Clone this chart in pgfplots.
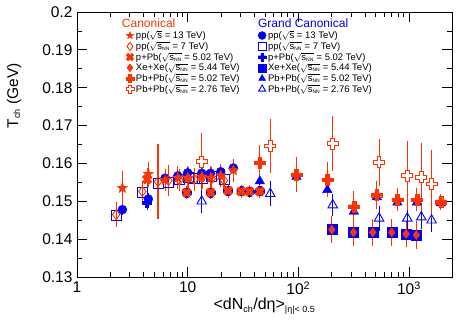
\documentclass[border=0pt]{standalone}
\usepackage{fontspec}
\setmainfont{Liberation Sans}
\usepackage{pgfplots}
\pgfplotsset{compat=1.18}
\definecolor{cRed}{HTML}{FF3300}
\definecolor{cBlue}{HTML}{0000FF}

% filled five-point star
\pgfdeclareplotmark{fstar}{%
  \pgfpathmoveto{\pgfpointpolar{90}{\pgfplotmarksize}}%
  \pgfpathlineto{\pgfpointpolar{126}{0.42\pgfplotmarksize}}%
  \pgfpathlineto{\pgfpointpolar{162}{\pgfplotmarksize}}%
  \pgfpathlineto{\pgfpointpolar{198}{0.42\pgfplotmarksize}}%
  \pgfpathlineto{\pgfpointpolar{234}{\pgfplotmarksize}}%
  \pgfpathlineto{\pgfpointpolar{270}{0.42\pgfplotmarksize}}%
  \pgfpathlineto{\pgfpointpolar{306}{\pgfplotmarksize}}%
  \pgfpathlineto{\pgfpointpolar{342}{0.42\pgfplotmarksize}}%
  \pgfpathlineto{\pgfpointpolar{18}{\pgfplotmarksize}}%
  \pgfpathlineto{\pgfpointpolar{54}{0.42\pgfplotmarksize}}%
  \pgfpathclose
  \pgfusepathqfillstroke}
% thick plus
\pgfdeclareplotmark{fcross}{%
  \pgfpathmoveto{\pgfpoint{-0.34\pgfplotmarksize}{\pgfplotmarksize}}%
  \pgfpathlineto{\pgfpoint{0.34\pgfplotmarksize}{\pgfplotmarksize}}%
  \pgfpathlineto{\pgfpoint{0.34\pgfplotmarksize}{0.34\pgfplotmarksize}}%
  \pgfpathlineto{\pgfpoint{\pgfplotmarksize}{0.34\pgfplotmarksize}}%
  \pgfpathlineto{\pgfpoint{\pgfplotmarksize}{-0.34\pgfplotmarksize}}%
  \pgfpathlineto{\pgfpoint{0.34\pgfplotmarksize}{-0.34\pgfplotmarksize}}%
  \pgfpathlineto{\pgfpoint{0.34\pgfplotmarksize}{-\pgfplotmarksize}}%
  \pgfpathlineto{\pgfpoint{-0.34\pgfplotmarksize}{-\pgfplotmarksize}}%
  \pgfpathlineto{\pgfpoint{-0.34\pgfplotmarksize}{-0.34\pgfplotmarksize}}%
  \pgfpathlineto{\pgfpoint{-\pgfplotmarksize}{-0.34\pgfplotmarksize}}%
  \pgfpathlineto{\pgfpoint{-\pgfplotmarksize}{0.34\pgfplotmarksize}}%
  \pgfpathlineto{\pgfpoint{-0.34\pgfplotmarksize}{0.34\pgfplotmarksize}}%
  \pgfpathclose
  \pgfusepathqfillstroke}

\newcommand{\snn}{$\sqrt{\mbox{s}_{\mbox{\tiny NN}}}$}

\pgfplotsset{
  eb/.style={only marks, error bars/.cd, y dir=both, y explicit, error mark=none,
    error bar style={line width=1.1pt}},
  pp13C/.style={color=cRed, mark=fstar, mark size=5.5pt},
  pp7C/.style={color=cRed, mark=diamond, mark size=5pt, mark options={fill=white, line width=0.9pt}},
  pPbC/.style={color=cRed, mark=fcross, mark size=5pt, mark options={rotate=45}},
  XeC/.style={color=cRed, mark=diamond*, mark size=4.5pt},
  Pb5C/.style={color=cRed, mark=fcross, mark size=5.5pt},
  Pb2C/.style={color=cRed, mark=fcross, mark size=5.5pt, mark options={fill=white, line width=0.9pt}},
  pp13G/.style={color=cBlue, mark=*, mark size=4.5pt},
  pp7G/.style={color=cBlue, mark=square, mark size=5pt, mark options={fill=white, line width=0.9pt}},
  pPbG/.style={color=cBlue, mark=fcross, mark size=4.5pt},
  XeG/.style={color=cBlue, mark=square*, mark size=5pt},
  Pb5G/.style={color=cBlue, mark=triangle*, mark size=5.5pt},
  Pb2G/.style={color=cBlue, mark=triangle, mark size=5.5pt, mark options={fill=white, line width=0.9pt}},
}

\begin{document}
\begin{tikzpicture}
\begin{axis}[
    scale only axis,
    width=375pt, height=265pt,
    xmode=log, xmin=1, xmax=2450,
    ymin=0.13, ymax=0.2,
    xtick={1,10,100,1000},
    xticklabels={1,10,10\textsuperscript{2},10\textsuperscript{3}},
    ytick={0.13,0.14,0.15,0.16,0.17,0.18,0.19,0.2},
    minor y tick num=1,
    tick align=inside,
    major tick length=10pt, minor tick length=5pt,
    axis line style={line width=0.8pt},
    every tick/.style={black, line width=0.8pt},
    tick label style={font=\fontsize{15.5}{17}\selectfont},
    yticklabel style={/pgf/number format/fixed, /pgf/number format/precision=2,
      /pgf/number format/assume math mode=true, xshift=-1pt},
    xticklabel style={yshift=-1pt},
    xlabel={<dN$_{\mbox{\fontsize{9}{9}\selectfont ch}}$/dη>$_{\mbox{\fontsize{9}{9}\selectfont |η|< 0.5}}$},
    xlabel style={font=\fontsize{16}{18}\selectfont, yshift=3pt},
    ylabel={T$_{\mbox{\fontsize{9}{9}\selectfont ch}}$ (GeV)},
    ylabel style={font=\fontsize{15.5}{17}\selectfont, at={(axis description cs:-0.168,0.82)}, anchor=east},
    legend columns=2,
    legend cell align=left,
    legend style={draw=none, fill=none, at={(0.11,0.99)}, anchor=north west,
      font=\fontsize{9.5}{10}\selectfont, row sep=-2.2pt,
      /tikz/every odd column/.append style={column sep=0pt},
      /tikz/every even column/.append style={column sep=12pt}},
]
% legend: Canonical column (left) and Grand Canonical column (right)
\addlegendimage{empty legend}
\addlegendentry{\hspace{-14pt}\textcolor{cRed}{\fontsize{12}{13}\selectfont Canonical}}
\addlegendimage{empty legend}
\addlegendentry{\hspace{-10pt}\textcolor{cBlue}{\fontsize{12}{13}\selectfont Grand Canonical}}
\addlegendimage{only marks, pp13C, mark size=4pt}
\addlegendentry{pp($\sqrt{\mbox{s}}$ = 13 TeV)}
\addlegendimage{only marks, pp13G, mark size=4pt}
\addlegendentry{pp($\sqrt{\mbox{s}}$ = 13 TeV)}
\addlegendimage{only marks, pp7C, mark size=4pt}
\addlegendentry{pp(\snn{} = 7 TeV)}
\addlegendimage{only marks, pp7G, mark size=4pt}
\addlegendentry{pp(\snn{} = 7 TeV)}
\addlegendimage{only marks, pPbC, mark size=4pt}
\addlegendentry{p+Pb(\snn{} = 5.02 TeV)}
\addlegendimage{only marks, pPbG, mark size=4pt}
\addlegendentry{p+Pb(\snn{} = 5.02 TeV)}
\addlegendimage{only marks, XeC, mark size=4pt}
\addlegendentry{Xe+Xe(\snn{} = 5.44 TeV)}
\addlegendimage{only marks, XeG, mark size=4pt}
\addlegendentry{Xe+Xe(\snn{} = 5.44 TeV)}
\addlegendimage{only marks, Pb5C, mark size=4pt}
\addlegendentry{Pb+Pb(\snn{} = 5.02 TeV)}
\addlegendimage{only marks, Pb5G, mark size=4pt}
\addlegendentry{Pb+Pb(\snn{} = 5.02 TeV)}
\addlegendimage{only marks, Pb2C, mark size=4pt}
\addlegendentry{Pb+Pb(\snn{} = 2.76 TeV)}
\addlegendimage{only marks, Pb2G, mark size=4pt}
\addlegendentry{Pb+Pb(\snn{} = 2.76 TeV)}

% ---- Grand canonical (blue) ----
\addplot[forget plot, pp7G, eb] coordinates {
 (2.26,0.1463) +- (0,0.0012) (3.90,0.1523) +- (0,0.0012) (5.40,0.1548) +- (0,0.0012)
 (6.72,0.1550) +- (0,0.0012) (8.45,0.1558) +- (0,0.0012) (10.1,0.1562) +- (0,0.0012)
 (11.5,0.1560) +- (0,0.0012) (13.5,0.1560) +- (0,0.0012) (16.5,0.1565) +- (0,0.0012)
 (21.3,0.1557) +- (0,0.0012)};
\addplot[forget plot, pp13G, eb] coordinates {
 (2.57,0.1478) +- (0,0.0015) (4.41,0.1506) +- (0,0.0015) (6.25,0.1561) +- (0,0.0012)
 (8.14,0.1567) +- (0,0.0012) (10.0,0.1575) +- (0,0.0012) (13.4,0.1574) +- (0,0.0012)
 (16.1,0.1574) +- (0,0.0012) (19.9,0.1578) +- (0,0.0012) (25.9,0.1588) +- (0,0.0012)};
\addplot[forget plot, pPbG, eb] coordinates {
 (4.3,0.1496) +- (0,0.0018) (9.8,0.1523) +- (0,0.0015) (16.1,0.1523) +- (0,0.0015)
 (23.2,0.1528) +- (0,0.0015) (30.5,0.1527) +- (0,0.0015) (36.2,0.1526) +- (0,0.0015)
 (45.0,0.1527) +- (0,0.0015)};
\addplot[forget plot, XeG, eb] coordinates {
 (201,0.1425) +- (0,0.001) (315,0.1418) +- (0,0.001) (471,0.1418) +- (0,0.001)
 (700,0.1418) +- (0,0.001) (944,0.1414) +- (0,0.001) (1167,0.1411) +- (0,0.001)};
\addplot[forget plot, Pb5G, eb] coordinates {
 (44.9,0.1553) +- (0,0.001) (96.3,0.1565) +- (0,0.001) (183,0.1530) +- (0,0.001)
 (318,0.1473) +- (0,0.001) (512,0.1511) +- (0,0.001) (786,0.1497) +- (0,0.001)
 (1180,0.1497) +- (0,0.001) (1943,0.1495) +- (0,0.001)};
\addplot[forget plot, Pb2G, eb] coordinates {
 (13.4,0.1500) +- (0,0.0030) (55.8,0.1520) +- (0,0.0033) (205,0.1490) +- (0,0.0030)
 (537,0.1455) +- (0,0.0033) (966,0.1455) +- (0,0.0033) (1294,0.1458) +- (0,0.0030)
 (1601,0.1450) +- (0,0.0030)};

% ---- Canonical (red) ----
\addplot[forget plot, pp7C, eb] coordinates {
 (2.26,0.1465) +- (0,0.0033) (3.90,0.1526) +- (0,0.0027) (5.40,0.1552) +- (0,0.0100)
 (6.72,0.1555) +- (0,0.0040) (8.45,0.1556) +- (0,0.0030) (10.1,0.1560) +- (0,0.0030)
 (11.5,0.1558) +- (0,0.0030) (13.5,0.1562) +- (0,0.0030) (16.5,0.1560) +- (0,0.0030)
 (21.3,0.1555) +- (0,0.0030)};
\addplot[forget plot, pp13C, eb] coordinates {
 (2.57,0.1535) +- (0,0.0044) (4.41,0.1572) +- (0,0.0033) (6.25,0.1556) +- (0,0.0030)
 (8.14,0.1562) +- (0,0.0030) (10.0,0.1562) +- (0,0.0030) (13.4,0.1565) +- (0,0.0030)
 (16.1,0.1562) +- (0,0.0030) (19.9,0.1568) +- (0,0.0030) (25.9,0.1582) +- (0,0.0030)};
\addplot[forget plot, pPbC, eb] coordinates {
 (4.3,0.1558) +- (0,0.0030) (9.8,0.1523) +- (0,0.0018) (16.1,0.1523) +- (0,0.0018)
 (23.2,0.1528) +- (0,0.0018) (30.5,0.1526) +- (0,0.0018) (36.2,0.1526) +- (0,0.0018)
 (45.0,0.1526) +- (0,0.0018)};
\addplot[forget plot, XeC, eb] coordinates {
 (201,0.1425) +- (0,0.0036) (315,0.1418) +- (0,0.0036) (471,0.1418) +- (0,0.0036)
 (700,0.1418) +- (0,0.0035) (944,0.1414) +- (0,0.0035) (1167,0.1411) +- (0,0.0037)};
\addplot[forget plot, Pb5C, eb] coordinates {
 (44.9,0.1602) +- (0,0.0046) (96.3,0.1570) +- (0,0.0046) (183,0.1557) +- (0,0.0046)
 (318,0.1486) +- (0,0.0040) (512,0.1517) +- (0,0.0037) (786,0.1504) +- (0,0.0030)
 (1180,0.1504) +- (0,0.0030) (1943,0.1498) +- (0,0.0022)};
\addplot[forget plot, Pb2C, eb] coordinates {
 (13.4,0.1605) +- (0,0.0075) (55.8,0.1646) +- (0,0.0072) (205,0.1652) +- (0,0.0072)
 (537,0.1603) +- (0,0.0062) (966,0.1568) +- (0,0.0090) (1294,0.1563) +- (0,0.0090)
 (1601,0.1546) +- (0,0.0090)};
\end{axis}
\pgfresetboundingbox
\path[use as bounding box] ([shift={(-77pt,-50pt)}]current axis.south west)
  rectangle ([shift={(11pt,12pt)}]current axis.north east);
\end{tikzpicture}
\end{document}
